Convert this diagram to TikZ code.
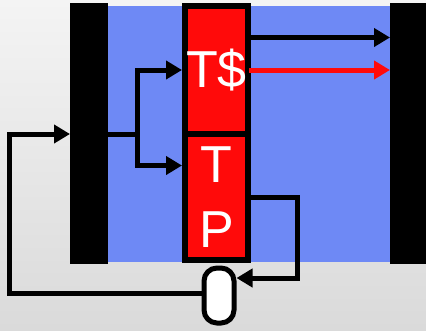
\documentclass[tikz,border=0pt]{standalone}
\usepackage{fontspec}
\setmainfont{Liberation Sans}
\usetikzlibrary{arrows.meta}
\definecolor{bgtop}{RGB}{244,244,244}
\definecolor{bgbot}{RGB}{218,218,218}
\definecolor{chipblue}{RGB}{110,137,245}
\definecolor{chipred}{RGB}{255,10,10}
\begin{document}
\begin{tikzpicture}[x=1pt,y=-1pt,
  bar/.style={fill=black, inner sep=0pt, outer sep=0pt},
  cell/.style={draw=black, fill=chipred, line width=6pt, inner sep=0pt, text=white,
    font=\fontsize{52}{65}\selectfont, align=center, minimum width=63pt},
  arr/.style={line width=5pt, -{Triangle[length=16pt,width=18pt]}},
  wire/.style={line width=5pt}
]
\useasboundingbox (0,0) rectangle (426,330);
\shade[top color=bgtop,bottom color=bgbot] (0,0) rectangle (426,330);
\node[fill=chipblue, inner sep=0pt, outer sep=0pt, minimum width=282pt, minimum height=256pt] (core) at (249,134) {};
\node[bar, minimum width=38pt, minimum height=261pt] (leftbar) at (89,133.5) {};
\node[bar, minimum width=36pt, minimum height=261pt] (rightbar) at (408,133.5) {};
\node[cell, minimum height=128pt] (tcache) at (216.5,70) {\raisebox{-2pt}{T\$}};
\node[cell, minimum height=126pt] (tp) at (216.5,197) {T\\P};
\node[draw, fill=white, line width=5pt, rounded corners=13pt, minimum width=30pt,
  minimum height=55pt, inner sep=0pt] (capsule) at (219,295.5) {};
% coordinates
\coordinate (loopL) at (9,134);
\coordinate (split) at (137,134);
\coordinate (lowin) at (0,165.5);
\coordinate (hiout) at (0,37.5);
\coordinate (loopR) at (297.5,278);
% connectors
\draw[arr] ([yshift=2.5pt]capsule.west) -| (loopL) -- (leftbar.west |- loopL);
\draw[wire] (leftbar.east |- split) -- (split);
\draw[arr] (split) |- (tcache.west);
\draw[arr] (split) |- (tp.west |- lowin);
\draw[arr] (tcache.east |- hiout) -- (rightbar.west |- hiout);
\draw[arr, chipred] ([xshift=-2pt]tcache.east) -- (rightbar.west |- tcache.east);
\draw[arr] (tp.east) -| (loopR) -- (capsule.east |- loopR);
\end{tikzpicture}
\end{document}
